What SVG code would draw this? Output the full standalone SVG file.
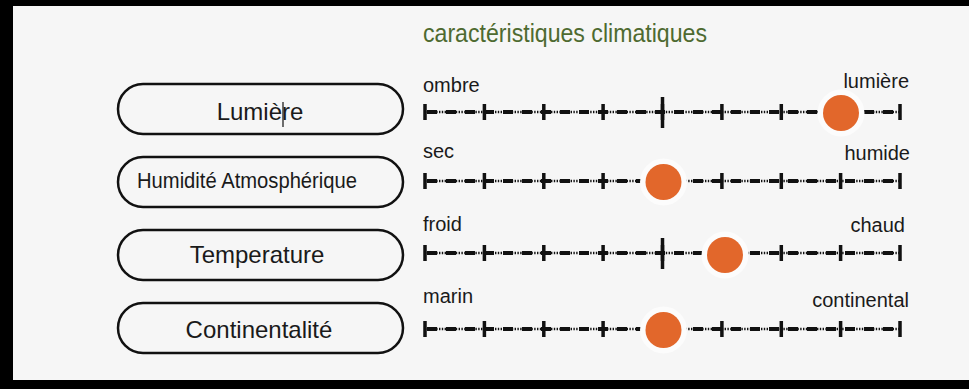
<svg xmlns="http://www.w3.org/2000/svg" xmlns:xlink="http://www.w3.org/1999/xlink" width="969" height="389" viewBox="0 0 969 389">
  <style>
    text { font-family: "Liberation Sans", Arial, Helvetica, sans-serif; fill: #1a1a1a; }
    .title { font-size: 26px; fill: #4e6a30; }
    .pill rect { fill: none; stroke: #111; stroke-width: 2.5; }
    .pill text { font-size: 24px; }
    .end { font-size: 20px; }
    .dots { stroke: #111; stroke-width: 2.4; stroke-dasharray: 1.4 1.4; }
    .dash { stroke: #111; stroke-width: 4; stroke-dasharray: 10 9; }
    .tick { stroke: #111; stroke-width: 3.5; fill: none; }
    .knob { fill: #e2672b; }
    .halo { fill: #fcfcfc; }
  </style>
  <defs>
    <!-- graduated axis, drawn at y = 0 -->
    <g id="axis">
      <line class="dots" x1="425" y1="0" x2="900" y2="0"/>
      <line class="dash" x1="427" y1="0" x2="900" y2="0"/>
      <path class="tick" d="M425 -8V8M484.4 -8V8M543.8 -8V8M603.1 -8V8M662.5 -8V8M721.9 -8V8M781.3 -8V8M840.6 -8V8M900 -8V8"/>
    </g>
    <g id="knob">
      <circle class="halo" r="23.5"/>
      <circle class="knob" r="18"/>
    </g>
  </defs>

  <!-- page and frame -->
  <rect x="0" y="0" width="969" height="389" fill="#f6f6f6"/>
  <rect x="0" y="0" width="969" height="6" fill="#000"/>
  <rect x="0" y="0" width="13" height="389" fill="#000"/>
  <rect x="0" y="380" width="969" height="9" fill="#000"/>

  <text class="title" x="423" y="42" textLength="284" lengthAdjust="spacingAndGlyphs">caractéristiques climatiques</text>

  <!-- factor labels -->
  <g id="node-lumiere" class="pill">
    <rect x="118" y="84" width="285" height="50" rx="25"/>
    <text x="260" y="120" text-anchor="middle">Lumière</text>
    <line x1="283" y1="102" x2="283" y2="127" stroke="#222" stroke-width="1.3"/>
  </g>
  <g id="node-humidite" class="pill">
    <rect x="118" y="157" width="285" height="50" rx="25"/>
    <text x="137" y="188" style="font-size:21.5px" textLength="220" lengthAdjust="spacingAndGlyphs">Humidité Atmosphérique</text>
  </g>
  <g id="node-temperature" class="pill">
    <rect x="118" y="230" width="285" height="50" rx="25"/>
    <text x="257" y="263" text-anchor="middle">Temperature</text>
  </g>
  <g id="node-continentalite" class="pill">
    <rect x="118" y="303" width="285" height="50" rx="25"/>
    <text x="259" y="338" text-anchor="middle">Continentalité</text>
  </g>

  <!-- scales with their current positions -->
  <g id="scale-lumiere">
    <text class="end" x="423" y="92">ombre</text>
    <text class="end" x="909" y="88" text-anchor="end">lumière</text>
    <use xlink:href="#axis" transform="translate(0,112)"/>
    <line class="tick" x1="662.5" y1="97" x2="662.5" y2="128"/>
    <use xlink:href="#knob" transform="translate(841,113)"/>
  </g>
  <g id="scale-humidite">
    <text class="end" x="423" y="158">sec</text>
    <text class="end" x="910" y="160" text-anchor="end">humide</text>
    <use xlink:href="#axis" transform="translate(0,181)"/>
    <use xlink:href="#knob" transform="translate(663.5,182)"/>
  </g>
  <g id="scale-temperature">
    <text class="end" x="423" y="231">froid</text>
    <text class="end" x="905" y="232" text-anchor="end">chaud</text>
    <use xlink:href="#axis" transform="translate(0,253)"/>
    <line class="tick" x1="662.5" y1="238" x2="662.5" y2="269"/>
    <use xlink:href="#knob" transform="translate(725,255)"/>
  </g>
  <g id="scale-continentalite">
    <text class="end" x="423" y="303">marin</text>
    <text class="end" x="909" y="307" text-anchor="end">continental</text>
    <use xlink:href="#axis" transform="translate(0,329)"/>
    <use xlink:href="#knob" transform="translate(663.5,330)"/>
  </g>
</svg>
